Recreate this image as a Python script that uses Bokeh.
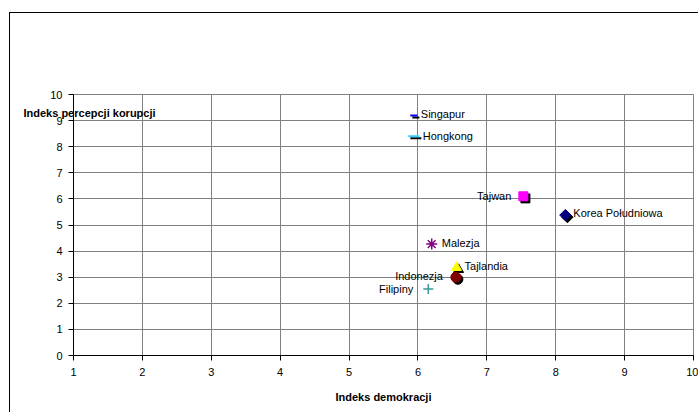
from bokeh.plotting import figure
from bokeh.models import ColumnDataSource, Range1d, FixedTicker
from bokeh.transform import dodge
from bokeh.core.properties import value
from bokeh.embed import file_html
from bokeh.resources import INLINE
import math

# ---- data ----
countries = ["Singapur", "Hongkong", "Tajwan", "Korea Południowa",
             "Malezja", "Tajlandia", "Indonezja", "Filipiny"]
democracy_index = [5.94, 5.94, 7.53, 8.14, 6.20, 6.56, 6.55, 6.15]
corruption_index = [9.20, 8.40, 6.10, 5.38, 4.27, 3.37, 3.00, 2.55]
x_ticks = [1, 2, 3, 4, 5, 6, 7, 8, 9, 10]
y_ticks = [0, 1, 2, 3, 4, 5, 6, 7, 8, 9, 10]
x_title = "Indeks demokracji"
y_title = "Indeks percepcji korupcji"

# ---- styles (per country) ----
markers = ["dash", "dash", "square", "square", "asterisk", "triangle", "circle", "cross"]
angles = [0, 0, 0, math.pi / 4, 0, 0, 0, 0]
colors = ["#0000FF", "#33CCFF", "#FF00FF", "#000080", "#800080", "#FFFF00", "#800000", "#339999"]
sizes = [7, 11, 9, 8, 11, 10, 10, 10]
widths = [2, 2, 1, 1, 1.5, 1, 1, 1.5]
shadow = [True, True, True, True, False, True, True, False]
lab_align = ["left", "left", "right", "left", "left", "left", "right", "right"]
lab_dx = [7, 9, -12, 8, 10, 8, -13, -15]
lab_dy = [-1, 0, 0, -2, -1, -2, -1, 0]

FONT = "Liberation Sans"

p = figure(width=689, height=400, output_backend="svg", toolbar_location=None,
           x_range=Range1d(1, 10), y_range=Range1d(0, 10),
           min_border_left=63, min_border_top=81, min_border_right=6,
           min_border_bottom=58, margin=(12, 0, 0, 9))
p.styles = {"border-left": "1px solid #000000", "border-top": "1px solid #000000",
            "box-sizing": "border-box"}
p.background_fill_color = "white"
p.border_fill_color = "white"
p.outline_line_color = "#808080"
p.outline_line_width = 1

for ax, ticks in ((p.xaxis, x_ticks), (p.yaxis, y_ticks)):
    ax.ticker = FixedTicker(ticks=ticks)
    ax.minor_tick_line_color = None
    ax.major_tick_in = 0
    ax.major_tick_out = 5
    ax.axis_line_color = "black"
    ax.major_tick_line_color = "black"
    ax.major_label_text_font = FONT
    ax.major_label_text_font_size = "11px"
    ax.major_label_text_color = "black"

p.xaxis.major_label_standoff = 7
p.yaxis.major_label_standoff = 6
p.xaxis.axis_label = x_title
p.xaxis.axis_label_text_font = FONT
p.xaxis.axis_label_text_font_size = "11px"
p.xaxis.axis_label_text_font_style = "bold"
p.xaxis.axis_label_text_color = "black"
p.xaxis.axis_label_standoff = 12

p.grid.grid_line_color = "#808080"
p.grid.grid_line_width = 1
p.xgrid.ticker = FixedTicker(ticks=x_ticks)
p.ygrid.ticker = FixedTicker(ticks=y_ticks)

for i in range(len(countries)):
    src = ColumnDataSource(dict(x=[democracy_index[i]], y=[corruption_index[i]],
                                name=[countries[i]]))
    if shadow[i]:
        p.scatter(x=dodge("x", 0.03), y=dodge("y", -0.08), source=src,
                  marker=markers[i], size=sizes[i], angle=angles[i],
                  fill_color="black", line_color="black", line_width=widths[i])
    fill = colors[i] if markers[i] not in ("dash", "asterisk", "cross") else None
    p.scatter(x="x", y="y", source=src, marker=markers[i], size=sizes[i],
              angle=angles[i], fill_color=fill, line_color=colors[i],
              line_width=widths[i])
    p.text(x="x", y="y", text="name", source=src, x_offset=lab_dx[i],
           y_offset=lab_dy[i], text_align=lab_align[i], text_baseline="middle",
           text_font=value(FONT), text_font_size="11px", text_color="black")

# vertical-axis title, drawn horizontally near the top-left like the original
p.title.text = y_title
p.title.align = "left"
p.title.offset = -50
p.title.standoff = -48
p.title.text_font = FONT
p.title.text_font_size = "11px"
p.title.text_font_style = "bold"
p.title.text_color = "black"

open("out.html", "w").write(file_html(p, INLINE))
